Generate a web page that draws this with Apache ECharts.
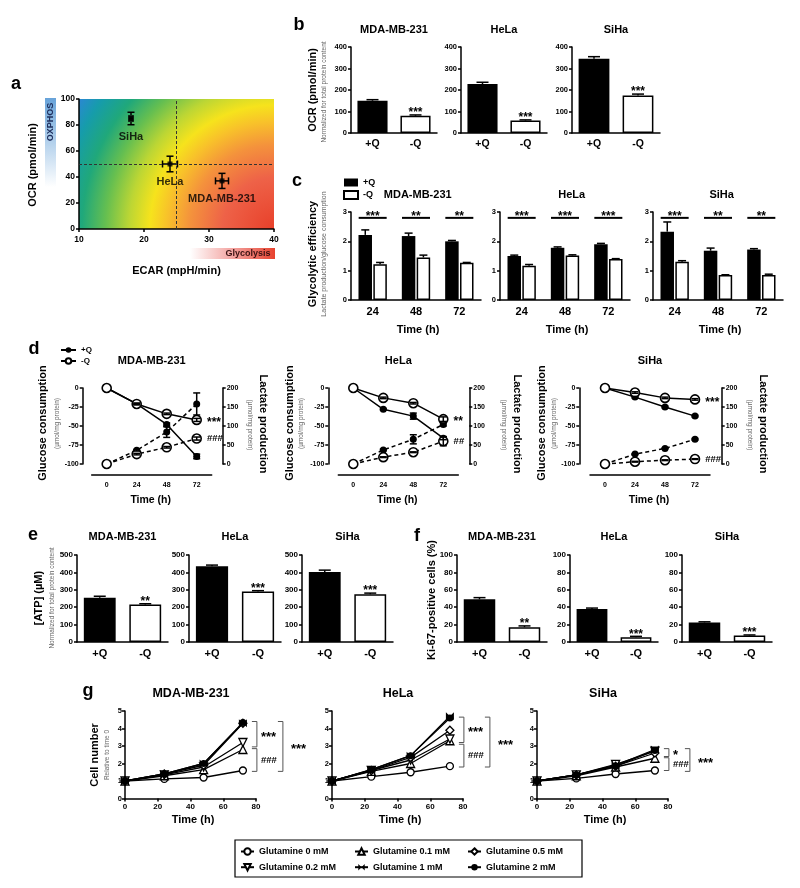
<!DOCTYPE html>
<html><head><meta charset="utf-8">
<script src="https://cdn.jsdelivr.net/npm/echarts@6/dist/echarts.min.js"></script>
<style>html,body{margin:0;padding:0;background:#fff}#c{width:800px;height:888px}</style>
</head><body><div id="c"></div>
<script>
// ================= DATA =================
// Panel a : metabolic map
const aNames = ['SiHa', 'HeLa', 'MDA-MB-231'];
const aECAR = [18, 24, 32];
const aECARerr = [0.3, 1.15, 1.0];
const aOCR = [85, 50, 37];
const aOCRerr = [4.8, 6, 5.8];
const aRefECAR = 25, aRefOCR = 50;
// Panel b : OCR
const cellLines = ['MDA-MB-231', 'HeLa', 'SiHa'];
const qCats = ['+Q', '-Q'];
const bOCR = [[150, 80], [228, 58], [345, 175]];
const bOCRerr = [[5, 4], [8, 3], [10, 6]];
const bSig = ['***', '***', '***'];
// Panel c : glycolytic efficiency
const cTimes = ['24', '48', '72'];
const cPlus = [[2.22, 2.18, 2.0], [1.5, 1.78, 1.9], [2.33, 1.68, 1.72]];
const cPlusErr = [[0.17, 0.1, 0.03], [0.03, 0.03, 0.03], [0.33, 0.09, 0.03]];
const cMinus = [[1.22, 1.45, 1.27], [1.17, 1.52, 1.4], [1.3, 0.85, 0.85]];
const cMinusErr = [[0.06, 0.08, 0.01], [0.04, 0.02, 0.01], [0.04, 0.01, 0.03]];
const cSig = [['***', '**', '**'], ['***', '***', '***'], ['***', '**', '**']];
const cSigLevel = 2.8;
// Panel d : glucose consumption (left axis) / lactate production (right axis)
const dTimes = [0, 24, 48, 72];
const dGlucPlus = [[0, -21, -48, -90], [0, -28, -37, -66], [0, -12, -25, -37]];
const dGlucPlusErr = [[0, 1, 2, 3], [0, 1, 4, 2], [0, 1, 1, 1]];
const dGlucMinus = [[0, -21, -34, -42], [0, -13, -20, -41], [0, -6, -13, -15]];
const dGlucMinusErr = [[0, 1, 1, 2], [0, 1, 1, 3], [0, 1, 1, 1]];
const dLacPlus = [[0, 36, 84, 158], [0, 37, 65, 104], [0, 26, 41, 65]];
const dLacPlusErr = [[0, 2, 14, 29], [0, 2, 12, 4], [0, 1, 1, 2]];
const dLacMinus = [[0, 26, 44, 67], [0, 18, 31, 60], [0, 6, 10, 13]];
const dLacMinusErr = [[0, 2, 2, 4], [0, 1, 1, 12], [0, 1, 1, 1]];
const dSigGluc = ['***', '**', '***'];
const dSigLac = ['###', '##', '###'];
// Panel e : ATP
const eATP = [[255, 215], [435, 290], [403, 275]];
const eATPerr = [[8, 5], [7, 5], [10, 6]];
const eSig = ['**', '***', '***'];
// Panel f : Ki-67
const fKi67 = [[49, 17], [38, 5.5], [22.5, 7.5]];
const fKi67err = [[2, 1.5], [1, 1], [0.7, 0.6]];
const fSig = ['**', '***', '***'];
// Panel g : cell number
const gConc = ['0', '0.1', '0.2', '0.5', '1', '2'];
const gNames = gConc.map(c => 'Glutamine ' + c + ' mM');
const gTime = [0, 24, 48, 72];
const gMDA = [[1, 1.12, 1.2, 1.6], [1, 1.3, 1.65, 2.8], [1, 1.35, 1.8, 3.2], [1, 1.4, 1.9, 4.3], [1, 1.4, 2.0, 4.3], [1, 1.4, 2.0, 4.35]];
const gHeLa = [[1, 1.25, 1.5, 1.85], [1, 1.55, 2.0, 3.3], [1, 1.6, 2.2, 3.4], [1, 1.6, 2.35, 3.9], [1, 1.65, 2.45, 4.7], [1, 1.65, 2.45, 4.6]];
const gSiHa = [[1, 1.15, 1.4, 1.6], [1, 1.3, 1.8, 2.3], [1, 1.35, 1.95, 2.7], [1, 1.35, 1.85, 2.6], [1, 1.35, 1.9, 2.8], [1, 1.35, 1.85, 2.75]];
const gSigLabels = [['***', '###', '***'], ['***', '###', '***'], ['*', '###', '***']];
const gSigRanges = [[[4.4, 2.95], [2.85, 1.55], [4.4, 1.55]], [[4.65, 3.2], [3.1, 1.8], [4.65, 1.8]], [[2.85, 2.4], [2.33, 1.6], [2.85, 1.55]]];

// ================= BUILD =================
const FF = '"Liberation Sans", Arial, sans-serif';
const chart = echarts.init(document.getElementById('c'), null, {renderer: 'canvas', width: 800, height: 888});
const option = {animation: false, backgroundColor: '#fff', textStyle: {fontFamily: FF},
  grid: [], xAxis: [], yAxis: [], series: [], legend: [], graphic: []};

function lbl(size, extra) { return Object.assign({color: '#000', fontSize: size, fontWeight: 'bold', fontFamily: FF}, extra || {}); }
const AXLINE = {show: true, onZero: false, lineStyle: {color: '#000', width: 1.5}};
const AXTICK = {show: true, length: 3, inside: false, lineStyle: {color: '#000', width: 1.5}};
function grid(l, t, w, h, extra) { option.grid.push(Object.assign({left: l, top: t, width: w, height: h}, extra || {})); return option.grid.length - 1; }
function xAx(o) { option.xAxis.push(o); return option.xAxis.length - 1; }
function yAx(o) { option.yAxis.push(o); return option.yAxis.length - 1; }
function valAxis(gi, min, max, interval, fs, extra) {
  return Object.assign({type: 'value', gridIndex: gi, min: min, max: max, interval: interval, axisLine: AXLINE,
    axisTick: AXTICK, splitLine: {show: false}, axisLabel: lbl(fs, {margin: 4})}, extra || {});
}
function catAxis(gi, data, fs, margin) {
  return {type: 'category', gridIndex: gi, data: data, axisLine: AXLINE, axisTick: {show: false},
    splitLine: {show: false}, axisLabel: lbl(fs, {margin: margin, interval: 0})};
}
function T(x, y, text, o) {
  o = o || {};
  return {type: 'text', x: x, y: y, rotation: o.rot || 0, silent: true, z: 100,
    style: {text: text, fill: o.color || '#000', font: (o.weight || 'bold') + ' ' + (o.size || 11) + 'px ' + FF,
      textAlign: o.align || 'center', textVerticalAlign: 'middle'}};
}
const LS = {stroke: '#000', lineWidth: 1.5};

// generic vertical error bar (+ optional label above)
function errSeries(xi, yi, items, o) {
  o = o || {};
  return {type: 'custom', xAxisIndex: xi, yAxisIndex: yi, data: items, silent: true, z: o.z || 3, clip: false,
    renderItem: function (params, api) {
      const idx = params.dataIndex;
      const x = api.value(0), y = api.value(1), e = api.value(2);
      const p0 = api.coord([x, y]);
      const cx = p0[0] + (o.dx || 0);
      const ch = [];
      let topY = p0[1];
      if (e > 0) {
        const pt = api.coord([x, y + e]);
        const pb = o.up ? p0 : api.coord([x, y - e]);
        const cw = o.cap || 4;
        topY = pt[1];
        ch.push({type: 'line', shape: {x1: cx, y1: pt[1], x2: cx, y2: pb[1]}, style: LS});
        ch.push({type: 'line', shape: {x1: cx - cw, y1: pt[1], x2: cx + cw, y2: pt[1]}, style: LS});
        if (!o.up) ch.push({type: 'line', shape: {x1: cx - cw, y1: pb[1], x2: cx + cw, y2: pb[1]}, style: LS});
      }
      if (o.labels && o.labels[idx]) {
        ch.push({type: 'text', style: {text: o.labels[idx], x: cx, y: topY + 4, textAlign: 'center',
          textVerticalAlign: 'bottom', fill: '#000', font: 'bold 12px ' + FF}});
      }
      return {type: 'group', children: ch};
    }};
}

// ---------- Panel a ----------
(function () {
  const gi = grid(79, 99, 195, 130, {show: true, borderWidth: 0, backgroundColor: {type: 'radial', x: 1, y: 1, r: 1.8,
    colorStops: [
      {offset: 0, color: '#e8402a'}, {offset: 0.22, color: '#ee6248'}, {offset: 0.36, color: '#f4923c'},
      {offset: 0.46, color: '#f8c22a'}, {offset: 0.53, color: '#f6e31c'}, {offset: 0.62, color: '#bcd634'},
      {offset: 0.72, color: '#66bf50'}, {offset: 0.82, color: '#20a87a'}, {offset: 0.92, color: '#169cab'},
      {offset: 1, color: '#2a88d2'}]}});
  const xi = xAx(valAxis(gi, 10, 40, 10, 8.5, {axisLabel: lbl(8.5, {margin: 6})}));
  const yi = yAx(valAxis(gi, 0, 100, 20, 8.5));
  option.series.push({type: 'scatter', xAxisIndex: xi, yAxisIndex: yi, symbol: 'rect', symbolSize: 5, z: 5,
    itemStyle: {color: '#000'},
    data: aNames.map((n, i) => ({name: n, value: [aECAR[i], aOCR[i]]})),
    label: Object.assign({show: true, position: 'bottom', distance: 10, formatter: p => p.name}, lbl(11)),
    markLine: {silent: true, symbol: 'none', label: {show: false}, animation: false,
      lineStyle: {color: '#333', type: [3, 2], width: 1}, data: [{xAxis: aRefECAR}, {yAxis: aRefOCR}]}});
  option.series.push({type: 'custom', xAxisIndex: xi, yAxisIndex: yi, silent: true, z: 4,
    data: aNames.map((n, i) => [aECAR[i], aOCR[i], aECARerr[i], aOCRerr[i]]),
    renderItem: function (params, api) {
      const x = api.value(0), y = api.value(1), xe = api.value(2), ye = api.value(3);
      const l = api.coord([x - xe, y]), r = api.coord([x + xe, y]);
      const t = api.coord([x, y + ye]), b = api.coord([x, y - ye]);
      const c = 3.5;
      return {type: 'group', children: [
        {type: 'line', shape: {x1: l[0], y1: l[1], x2: r[0], y2: r[1]}, style: LS},
        {type: 'line', shape: {x1: l[0], y1: l[1] - c, x2: l[0], y2: l[1] + c}, style: LS},
        {type: 'line', shape: {x1: r[0], y1: r[1] - c, x2: r[0], y2: r[1] + c}, style: LS},
        {type: 'line', shape: {x1: t[0], y1: t[1], x2: b[0], y2: b[1]}, style: LS},
        {type: 'line', shape: {x1: t[0] - c, y1: t[1], x2: t[0] + c, y2: t[1]}, style: LS},
        {type: 'line', shape: {x1: b[0] - c, y1: b[1], x2: b[0] + c, y2: b[1]}, style: LS}]};
    }});
  option.graphic.push({type: 'rect', shape: {x: 45, y: 98, width: 11, height: 89}, silent: true,
    style: {fill: {type: 'linear', x: 0, y: 0, x2: 0, y2: 1, colorStops: [{offset: 0, color: '#68a3d9'}, {offset: 1, color: '#ffffff'}]}}});
  option.graphic.push(T(50.5, 122, 'OXPHOS', {rot: Math.PI / 2, size: 9, color: '#1d2d5c'}));
  option.graphic.push({type: 'rect', shape: {x: 190, y: 248, width: 85, height: 11}, silent: true,
    style: {fill: {type: 'linear', x: 0, y: 0, x2: 1, y2: 0, colorStops: [{offset: 0, color: '#ffffff'}, {offset: 0.5, color: '#f3a3a0'}, {offset: 1, color: '#e8422e'}]}}});
  option.graphic.push(T(248, 253.5, 'Glycolysis', {size: 9, color: '#3a1212'}));
  option.graphic.push(T(32.5, 165, 'OCR (pmol/min)', {rot: Math.PI / 2}));
  option.graphic.push(T(176.5, 271, 'ECAR (mpH/min)'));
})();

// ---------- bar panels (b, e, f) ----------
function barPanel(left, top, w, h, vals, errs, sig, ymax, yint, tfs, qfs, cap) {
  const gi = grid(left, top, w, h);
  const xi = xAx(catAxis(gi, qCats, qfs, 6));
  const yi = yAx(valAxis(gi, 0, ymax, yint, tfs));
  option.series.push({type: 'bar', xAxisIndex: xi, yAxisIndex: yi, barWidth: '70%', z: 2,
    data: vals.map((v, i) => ({value: v, itemStyle: i === 0 ? {color: '#000'} : {color: '#fff', borderColor: '#000', borderWidth: 1.5}}))});
  option.series.push(errSeries(xi, yi, vals.map((v, i) => [i, v, errs[i]]), {up: true, cap: cap, labels: ['', sig]}));
}
const bLefts = [351, 461, 572], bWidths = [86, 86, 88];
cellLines.forEach((n, k) => {
  barPanel(bLefts[k], 47, bWidths[k], 86, bOCR[k], bOCRerr[k], bSig[k], 400, 100, 7.5, 10.5, 6);
  option.graphic.push(T(bLefts[k] + bWidths[k] / 2, 30, n));
});
option.graphic.push(T(312.7, 90, 'OCR (pmol/min)', {rot: Math.PI / 2}));
option.graphic.push(T(324, 92, 'Normalized for total protein content', {rot: Math.PI / 2, size: 6.5, weight: 'normal', color: '#666'}));

const eLefts = [77, 189, 302], eWidths = [91, 92, 91];
cellLines.forEach((n, k) => {
  barPanel(eLefts[k], 555, eWidths[k], 87, eATP[k], eATPerr[k], eSig[k], 500, 100, 8, 11, 6);
  option.graphic.push(T(eLefts[k] + eWidths[k] / 2, 537, n));
});
option.graphic.push(T(39, 598, '[ATP] (\u00b5M)', {rot: Math.PI / 2}));
option.graphic.push(T(52, 598, 'Normalized for total protein content', {rot: Math.PI / 2, size: 6.5, weight: 'normal', color: '#666'}));

const fLefts = [457, 570, 682], fWidths = [90, 88, 90];
cellLines.forEach((n, k) => {
  barPanel(fLefts[k], 555, fWidths[k], 87, fKi67[k], fKi67err[k], fSig[k], 100, 20, 8, 11, 6);
  option.graphic.push(T(fLefts[k] + fWidths[k] / 2, 537, n));
});
option.graphic.push(T(431.5, 600, 'Ki-67-positive cells (%)', {rot: Math.PI / 2}));

// ---------- Panel c ----------
const cLefts = [351, 500, 653];
cellLines.forEach((n, k) => {
  const gi = grid(cLefts[k], 212, 130, 88);
  const xi = xAx(catAxis(gi, cTimes, 11, 6));
  const yi = yAx(valAxis(gi, 0, 3, 1, 7.5));
  option.series.push({type: 'bar', name: '+Q', xAxisIndex: xi, yAxisIndex: yi, barWidth: 13.5, barGap: '10%',
    itemStyle: {color: '#000'}, data: cPlus[k]});
  option.series.push({type: 'bar', name: '-Q', xAxisIndex: xi, yAxisIndex: yi, barWidth: 13.5, barGap: '10%',
    itemStyle: {color: '#fff', borderColor: '#000', borderWidth: 1.5}, data: cMinus[k]});
  option.series.push(errSeries(xi, yi, cPlus[k].map((v, i) => [i, v, cPlusErr[k][i]]), {up: true, dx: -7.4, cap: 4}));
  option.series.push(errSeries(xi, yi, cMinus[k].map((v, i) => [i, v, cMinusErr[k][i]]), {up: true, dx: 7.4, cap: 4}));
  option.series.push({type: 'custom', xAxisIndex: xi, yAxisIndex: yi, silent: true, z: 4,
    data: cTimes.map((t, i) => [i, cSigLevel]),
    renderItem: function (params, api) {
      const p = api.coord([api.value(0), api.value(1)]);
      return {type: 'group', children: [
        {type: 'line', shape: {x1: p[0] - 14, y1: p[1], x2: p[0] + 14, y2: p[1]}, style: {stroke: '#000', lineWidth: 2}},
        {type: 'text', style: {text: cSig[k][params.dataIndex], x: p[0], y: p[1] + 5, textAlign: 'center',
          textVerticalAlign: 'bottom', fill: '#000', font: 'bold 12px ' + FF}}]};
    }});
  option.graphic.push(T([417.7, 571.7, 721.7][k], 194.5, n));
  option.graphic.push(T(cLefts[k] + 67, 330, 'Time (h)'));
});
option.legend.push({left: 343, top: 178, orient: 'vertical', padding: 0, itemWidth: 14, itemHeight: 8, itemGap: 3,
  icon: 'rect', selectedMode: false, data: ['+Q', '-Q'], textStyle: lbl(9)});
option.graphic.push(T(312.5, 254, 'Glycolytic efficiency', {rot: Math.PI / 2}));
option.graphic.push(T(324.5, 254, 'Lactate production/glucose consumption', {rot: Math.PI / 2, size: 7, weight: 'normal', color: '#666'}));

// ---------- Panel d ----------
const dCfg = [
  {left: 91.7, lo: 9, ro: 11, glab: 42.5, gsub: 57, llab: 263, lsub: 250},
  {left: 338.3, lo: 10, ro: 11, glab: 290, gsub: 301.7, llab: 516.7, lsub: 504},
  {left: 590, lo: 10.7, ro: 11.7, glab: 541.7, gsub: 554, llab: 762.7, lsub: 750}
];
const symPlus = {symbol: 'circle', symbolSize: 7, itemStyle: {color: '#000'}};
const symMinus = {symbol: 'circle', symbolSize: 9, itemStyle: {color: '#fff', borderColor: '#000', borderWidth: 1.6}};
cellLines.forEach((n, k) => {
  const c = dCfg[k];
  const gi = grid(c.left, 388, 120, 76);
  const xi = xAx(valAxis(gi, -12, 84, 12, 7, {offset: 11, axisTick: {show: false},
    axisLabel: lbl(7, {margin: 7, formatter: v => dTimes.indexOf(v) >= 0 ? String(v) : ''})}));
  const yl = yAx(valAxis(gi, -100, 0, 25, 7, {position: 'left', offset: c.lo}));
  const yr = yAx(valAxis(gi, 0, 200, 50, 7, {position: 'right', offset: c.ro}));
  const mk = (vals, lastLabel, lblOffset) => vals.map((v, i) => {
    const it = {value: [dTimes[i], v]};
    if (i === vals.length - 1 && lastLabel) it.label = Object.assign({show: true, position: 'right', distance: 5,
      formatter: lastLabel, offset: [0, lblOffset]}, lbl(lastLabel.indexOf('*') >= 0 ? 12 : 9.5));
    return it;
  });
  const solid = {color: '#000', width: 1.5};
  const dashed = {color: '#000', width: 1.5, type: [4, 3]};
  option.series.push(Object.assign({type: 'line', name: '+Q ', xAxisIndex: xi, yAxisIndex: yl, lineStyle: solid, z: 3,
    data: mk(dGlucPlus[k])}, symPlus));
  option.series.push(Object.assign({type: 'line', name: '-Q ', xAxisIndex: xi, yAxisIndex: yl, lineStyle: solid, z: 4,
    data: mk(dGlucMinus[k], dSigGluc[k], 3)}, symMinus));
  option.series.push(Object.assign({type: 'line', name: '+Q ', xAxisIndex: xi, yAxisIndex: yr, lineStyle: dashed, z: 3,
    data: mk(dLacPlus[k])}, symPlus));
  option.series.push(Object.assign({type: 'line', name: '-Q ', xAxisIndex: xi, yAxisIndex: yr, lineStyle: dashed, z: 4,
    data: mk(dLacMinus[k], dSigLac[k], 0)}, symMinus));
  option.series.push(errSeries(xi, yl, dTimes.map((t, i) => [t, dGlucPlus[k][i], dGlucPlusErr[k][i]]), {cap: 3.5, z: 5}));
  option.series.push(errSeries(xi, yl, dTimes.map((t, i) => [t, dGlucMinus[k][i], dGlucMinusErr[k][i]]), {cap: 3.5, z: 5}));
  option.series.push(errSeries(xi, yr, dTimes.map((t, i) => [t, dLacPlus[k][i], dLacPlusErr[k][i]]), {cap: 3.5, z: 5}));
  option.series.push(errSeries(xi, yr, dTimes.map((t, i) => [t, dLacMinus[k][i], dLacMinusErr[k][i]]), {cap: 3.5, z: 5}));
  option.graphic.push(T(c.left + 60, 360.5, n));
  option.graphic.push(T(c.left + 59, 500.5, 'Time (h)', {size: 10.5}));
  option.graphic.push(T(c.glab, 423, 'Glucose consumption', {rot: Math.PI / 2}));
  option.graphic.push(T(c.gsub, 423.5, '(\u00b5mol/mg protein)', {rot: Math.PI / 2, size: 6.5, weight: 'normal', color: '#666'}));
  option.graphic.push(T(c.llab, 424, 'Lactate production', {rot: -Math.PI / 2}));
  option.graphic.push(T(c.lsub, 425, '(\u00b5mol/mg protein)', {rot: -Math.PI / 2, size: 6.5, weight: 'normal', color: '#666'}));
});
option.legend.push({left: 60, top: 346, orient: 'vertical', padding: 0, itemWidth: 15, itemHeight: 7, itemGap: 3,
  selectedMode: false, data: ['+Q ', '-Q '], formatter: s => s.trim(), textStyle: lbl(8)});

// ---------- Panel g ----------
const gSym = [
  {symbol: 'circle', symbolSize: 7, itemStyle: {color: '#fff', borderColor: '#000', borderWidth: 1.3}},
  {symbol: 'triangle', symbolSize: 8, itemStyle: {color: '#fff', borderColor: '#000', borderWidth: 1.3}},
  {symbol: 'triangle', symbolSize: 8, symbolRotate: 180, itemStyle: {color: '#fff', borderColor: '#000', borderWidth: 1.3}},
  {symbol: 'diamond', symbolSize: 8, itemStyle: {color: '#fff', borderColor: '#000', borderWidth: 1.3}},
  {symbol: 'path://M0,0L10,10L10,0L0,10Z', symbolSize: 8, itemStyle: {color: '#000'}},
  {symbol: 'circle', symbolSize: 7, itemStyle: {color: '#000'}}
];
const gData = [gMDA, gHeLa, gSiHa];
const gLefts = [125, 332, 537];
const gOuterDx = [40, 40, 35];
cellLines.forEach((n, k) => {
  const gi = grid(gLefts[k], 711, 131, 87.5);
  const xi = xAx(valAxis(gi, 0, 80, 20, 8, {axisLabel: lbl(8, {margin: 4})}));
  const yi = yAx(valAxis(gi, 0, 5, 1, 7.5, {axisLabel: lbl(7.5, {margin: 3})}));
  gData[k].forEach((vals, j) => {
    option.series.push(Object.assign({type: 'line', name: gNames[j], xAxisIndex: xi, yAxisIndex: yi, z: 3 + j,
      lineStyle: {color: '#000', width: 1.3}, data: vals.map((v, i) => [gTime[i], v])}, gSym[j]));
  });
  option.series.push({type: 'custom', xAxisIndex: xi, yAxisIndex: yi, silent: true, clip: false, z: 2,
    data: gSigRanges[k].map(r => [gTime[gTime.length - 1], r[0], r[1]]),
    renderItem: function (params, api) {
      const idx = params.dataIndex;
      const outer = idx === 2;
      const p1 = api.coord([api.value(0), api.value(1)]);
      const p2 = api.coord([api.value(0), api.value(2)]);
      const X = p1[0] + (outer ? gOuterDx[k] : 14);
      const st = {stroke: '#555', lineWidth: 1};
      return {type: 'group', children: [
        {type: 'line', shape: {x1: X, y1: p1[1], x2: X, y2: p2[1]}, style: st},
        {type: 'line', shape: {x1: X - 5, y1: p1[1], x2: X, y2: p1[1]}, style: st},
        {type: 'line', shape: {x1: X - 5, y1: p2[1], x2: X, y2: p2[1]}, style: st},
        {type: 'text', style: {text: gSigLabels[k][idx], x: X + (outer ? 8 : 4), y: (p1[1] + p2[1]) / 2 + (gSigLabels[k][idx].indexOf('*') >= 0 ? 3 : 0),
          textAlign: 'left', textVerticalAlign: 'middle', fill: '#000',
          font: 'bold ' + (gSigLabels[k][idx].indexOf('*') >= 0 ? 13 : 9.5) + 'px ' + FF}}]};
    }});
  option.graphic.push(T(gLefts[k] + 66, 694, n, {size: 12.5}));
  option.graphic.push(T(gLefts[k] + 68, 820, 'Time (h)'));
});
option.graphic.push(T(95, 755, 'Cell number', {rot: Math.PI / 2}));
option.graphic.push(T(107.5, 755, 'Relative to time 0', {rot: Math.PI / 2, size: 6.5, weight: 'normal', color: '#666'}));
[[0, 2], [1, 4], [3, 5]].forEach((col, j) => {
  option.legend.push({left: [240, 354, 467][j], top: 847, orient: 'vertical', padding: 0, itemWidth: 13, itemHeight: 8,
    itemGap: 6.7, selectedMode: false, data: col.map(i => gNames[i]), textStyle: lbl(9)});
});
option.graphic.push({type: 'rect', shape: {x: 235, y: 840, width: 347, height: 37}, silent: true,
  style: {fill: 'none', stroke: '#000', lineWidth: 1.2}});

// ---------- panel letters ----------
[['a', 16, 84], ['b', 299, 25], ['c', 297, 181], ['d', 34, 349], ['e', 33, 535], ['f', 417, 536], ['g', 88, 691]].forEach(p => {
  option.graphic.push(T(p[1], p[2], p[0], {size: 18}));
});

chart.setOption(option);
</script>
</body></html>
